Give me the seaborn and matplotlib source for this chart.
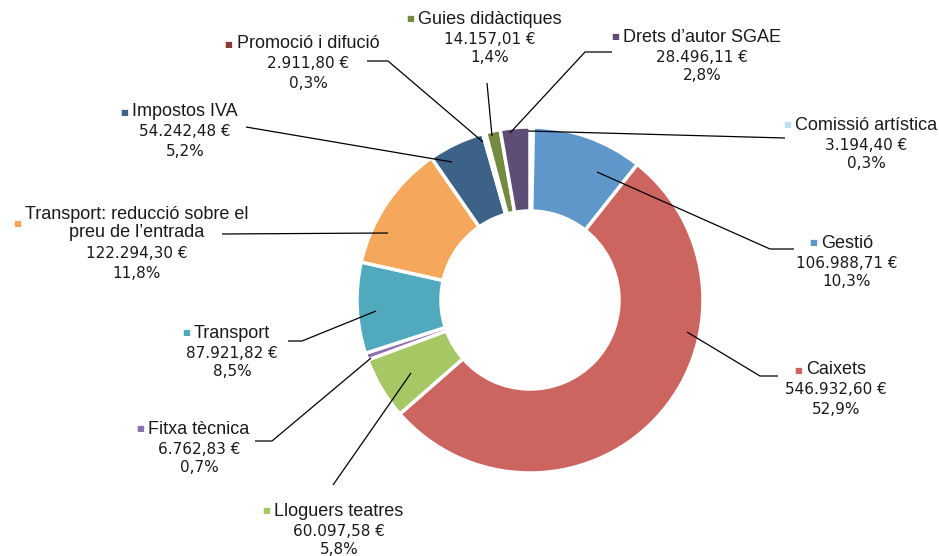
import matplotlib
matplotlib.use("Agg")
import matplotlib.pyplot as plt
import seaborn as sns

# ──────────────────────────────────────────────────────────────────
#  Dades (en el sentit de les agulles del rellotge, des de dalt)
# ──────────────────────────────────────────────────────────────────
categories = [
    "Comissió artística",
    "Gestió",
    "Caixets",
    "Lloguers teatres",
    "Fitxa tècnica",
    "Transport",
    "Transport: reducció sobre el\npreu de l\u2019entrada",
    "Impostos IVA",
    "Promoció i difució",
    "Guies didàctiques",
    "Drets d\u2019autor SGAE",
]
imports = [
    3194.40, 106988.71, 546932.60, 60097.58, 6762.83, 87921.82,
    122294.30, 54242.48, 2911.80, 14157.01, 28496.11,
]
colors = [
    "#B9E0EC", "#6097CA", "#CC655F", "#A5C864", "#8C71AE", "#51A9BE",
    "#F5A75B", "#3C6288", "#8E3A38", "#748A40", "#5E4E77",
]

# ──────────────────────────────────────────────────────────────────
#  Disposició (coordenades en píxels de la imatge)
# ──────────────────────────────────────────────────────────────────
CENTRE = (530, 300)
RADI = 173
GRUIX = 84

# centre x del bloc de text, y de la primera línia del nom
pos_etiquetes = [
    (866, 125), (847, 243), (836, 370), (339, 511), (199, 429), (232, 333),
    (137, 213), (185, 112), (308, 44), (490, 19), (702, 37),
]
linies_guia = [
    [(785, 138), (528, 131)],
    [(794, 249), (770, 249), (597, 172)],
    [(778, 376), (760, 376), (687, 332)],
    [(333, 485), (411, 373)],
    [(255, 441), (272, 441), (371, 358)],
    [(288, 341), (302, 341), (376, 311)],
    [(222, 234), (388, 233)],
    [(246, 127), (452, 162)],
    [(367, 61), (388, 61), (483, 142)],
    [(487, 83), (492, 136)],
    [(612, 52), (585, 52), (510, 133)],
]


def format_ca(valor: float) -> str:
    """Format català: 546.932,60"""
    return f"{valor:,.2f}".replace(",", "X").replace(".", ",").replace("X", ".")


sns.set_theme(style="white")
plt.rcParams["font.family"] = ["Liberation Sans", "DejaVu Sans"]

fig = plt.figure(figsize=(9.39, 5.56), dpi=100)
ax = fig.add_axes([0, 0, 1, 1])

ax.pie(
    imports,
    colors=colors,
    radius=RADI,
    center=CENTRE,
    startangle=-90,
    counterclock=True,
    wedgeprops=dict(width=GRUIX, edgecolor="white", linewidth=2.5),
)
ax.set_xlim(0, 939)
ax.set_ylim(556, 0)
ax.set_aspect("equal")
ax.axis("off")

total = sum(imports)
for nom, valor, color, (cx, y0), linia in zip(
    categories, imports, colors, pos_etiquetes, linies_guia
):
    xs, ys = zip(*linia)
    ax.plot(xs, ys, color="black", lw=0.9, solid_capstyle="butt")

    n_linies = nom.count("\n") + 1
    y_nom = y0 + (n_linies - 1) * 21 / 2
    t = ax.text(cx, y_nom, nom, ha="center", va="center", fontsize=13,
                color="#1a1a1a", family="Liberation Sans",
                multialignment="center", linespacing=1.15)
    ax.annotate("\u25A0", xy=(0, 0.5), xycoords=t, xytext=(-3, 0),
                textcoords="offset points", ha="right", va="center",
                fontsize=6, color=color, family="DejaVu Sans")

    y_val = y0 + (n_linies - 1) * 21 + 20
    ax.text(cx, y_val, f"{format_ca(valor)} \u20ac", ha="center", va="center",
            fontsize=11, color="#1a1a1a", family="DejaVu Sans")
    pct = f"{valor / total * 100:.1f}".replace(".", ",") + "%"
    ax.text(cx, y_val + 19, pct, ha="center", va="center",
            fontsize=11, color="#1a1a1a", family="DejaVu Sans")

fig.savefig("out.png", dpi=100)
plt.close(fig)
